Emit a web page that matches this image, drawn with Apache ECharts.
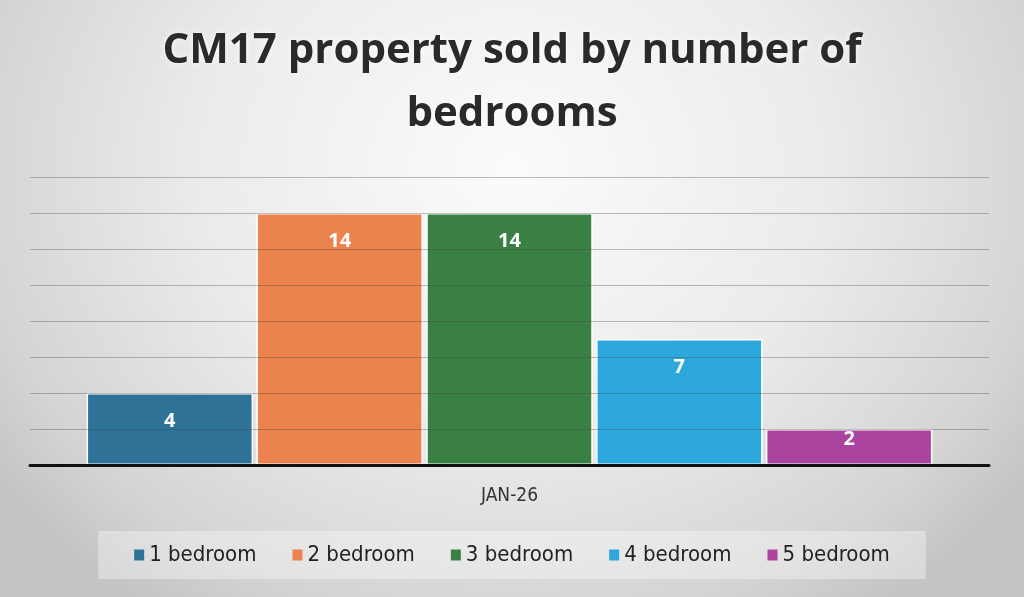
<!DOCTYPE html>
<html>
<head>
<meta charset="utf-8">
<script src="https://cdn.jsdelivr.net/npm/echarts@6/dist/echarts.min.js"></script>
<style>
  html, body { margin: 0; padding: 0; }
  body {
    width: 1024px; height: 597px; overflow: hidden;
    background: radial-gradient(ellipse 62% 90% at 50% 28%, #fbfbfb 0%, #ebebeb 50%, #d4d4d4 85%, #c4c4c4 100%);
  }
  #chart { width: 1024px; height: 597px; }
</style>
</head>
<body>
<div id="chart"></div>
<script>
const titleText = 'CM17 property sold by number of\nbedrooms';
const categories = ['JAN-26'];
const seriesNames = ['1 bedroom', '2 bedroom', '3 bedroom', '4 bedroom', '5 bedroom'];
const seriesValues = [[4], [14], [14], [7], [2]];
const seriesColors = ['#2f7298', '#ea834e', '#3a8045', '#2ca8dc', '#aa449f'];
const yMin = 0, yMax = 16, yInterval = 2;

const narrow = "'Liberation Sans Narrow', 'DejaVu Sans Condensed', 'Roboto', sans-serif";

const chart = echarts.init(document.getElementById('chart'), null, { renderer: 'canvas' });

const series = seriesNames.map((name, i) => ({
  name: name,
  type: 'bar',
  data: seriesValues[i],
  barGap: '2%',
  barCategoryGap: '11.8%',
  itemStyle: { color: seriesColors[i], borderColor: '#ffffff', borderWidth: 1.5 },
  label: {
    show: true,
    position: 'insideTop',
    distance: seriesValues[i][0] <= 2 ? 0 : 18,
    color: '#ffffff',
    fontSize: 20,
    fontWeight: 'bold',
    fontFamily: "'Open Sans', sans-serif"
  }
}));

chart.setOption({
  backgroundColor: 'transparent',
  animation: false,
  title: {
    text: titleText,
    left: 'center',
    top: 15,
    textStyle: {
      fontFamily: "'Open Sans', sans-serif",
      fontSize: 42,
      fontWeight: 'bold',
      color: '#2a2a2a',
      lineHeight: 63,
      textShadowColor: 'rgba(255,255,255,0.9)',
      textShadowBlur: 6
    }
  },
  grid: { left: 30, right: 35, top: 177, bottom: 132, containLabel: false },
  xAxis: {
    type: 'category',
    data: categories,
    z: 5,
    axisLine: { show: true, lineStyle: { color: '#111111', width: 3 } },
    axisTick: { show: false },
    axisLabel: { color: '#333333', fontSize: 19, margin: 22, fontFamily: narrow }
  },
  yAxis: {
    type: 'value',
    min: yMin, max: yMax, interval: yInterval,
    z: 4,
    axisLine: { show: false },
    axisTick: { show: false },
    axisLabel: { show: false },
    splitLine: { show: true, lineStyle: { color: 'rgba(70,70,70,0.35)', width: 1.2 } }
  },
  legend: {
    data: seriesNames,
    bottom: 18,
    left: 'center',
    icon: 'rect',
    itemWidth: 10,
    itemHeight: 11,
    itemGap: 36,
    padding: [13, 36],
    backgroundColor: 'rgba(255,255,255,0.35)',
    itemStyle: { borderWidth: 0 },
    textStyle: { fontSize: 22, color: '#222222', fontFamily: narrow }
  },
  series: series
});
</script>
</body>
</html>
